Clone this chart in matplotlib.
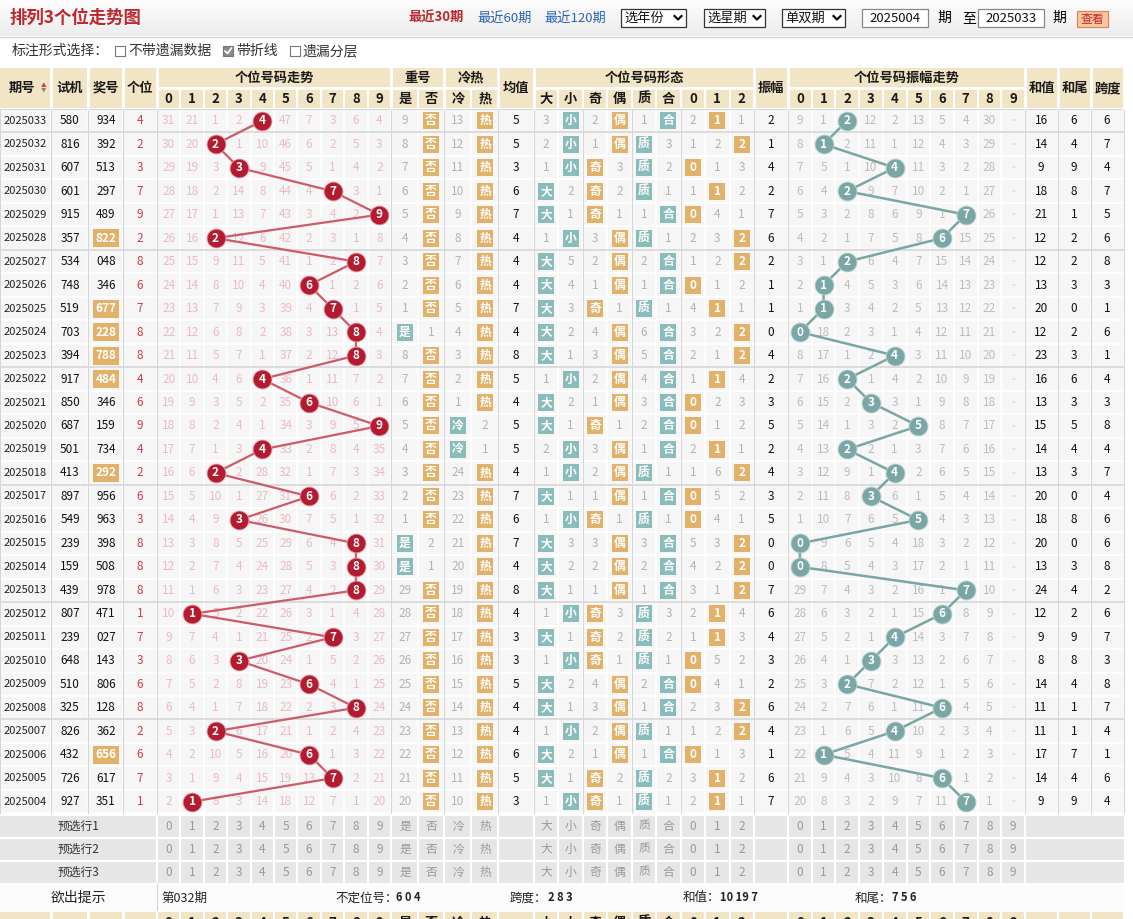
import numpy as np
import matplotlib.pyplot as plt
from matplotlib.patches import Rectangle
from matplotlib.colors import LinearSegmentedColormap

plt.rcParams['font.family'] = ['Noto Sans CJK SC', 'DejaVu Sans']

# ---- data, newest period first ----
periods = ['2025033', '2025032', '2025031', '2025030', '2025029', '2025028', '2025027',
           '2025026', '2025025', '2025024', '2025023', '2025022', '2025021', '2025020',
           '2025019', '2025018', '2025017', '2025016', '2025015', '2025014', '2025013',
           '2025012', '2025011', '2025010', '2025009', '2025008', '2025007', '2025006',
           '2025005', '2025004']
test_nums = ['580', '816', '607', '601', '915', '357', '534', '748', '519', '703', '394', '917',
             '850', '687', '501', '413', '897', '549', '239', '159', '439', '807', '239', '648',
             '510', '325', '826', '432', '726', '927']
draw_nums = ['934', '392', '513', '297', '489', '822', '048', '346', '677', '228', '788', '484',
             '346', '159', '734', '292', '956', '963', '398', '508', '978', '471', '027', '143',
             '806', '128', '362', '656', '617', '351']
ones = [4, 2, 3, 7, 9, 2, 8, 6, 7, 8, 8, 4, 6, 9, 4, 2, 6, 3, 8, 8, 8, 1, 7, 3, 6, 8, 2, 6, 7, 1]

# omission counts for digits 0-9 ('-' = hit)
trend_miss = [
    "31 21 1 2 - 47 7 3 6 4",
    "30 20 - 1 10 46 6 2 5 3",
    "29 19 3 - 9 45 5 1 4 2",
    "28 18 2 14 8 44 4 - 3 1",
    "27 17 1 13 7 43 3 4 2 -",
    "26 16 - 12 6 42 2 3 1 8",
    "25 15 9 11 5 41 1 2 - 7",
    "24 14 8 10 4 40 - 1 2 6",
    "23 13 7 9 3 39 4 - 1 5",
    "22 12 6 8 2 38 3 13 - 4",
    "21 11 5 7 1 37 2 12 - 3",
    "20 10 4 6 - 36 1 11 7 2",
    "19 9 3 5 2 35 - 10 6 1",
    "18 8 2 4 1 34 3 9 5 -",
    "17 7 1 3 - 33 2 8 4 35",
    "16 6 - 2 28 32 1 7 3 34",
    "15 5 10 1 27 31 - 6 2 33",
    "14 4 9 - 26 30 7 5 1 32",
    "13 3 8 5 25 29 6 4 - 31",
    "12 2 7 4 24 28 5 3 - 30",
    "11 1 6 3 23 27 4 2 - 29",
    "10 - 5 2 22 26 3 1 4 28",
    "9 7 4 1 21 25 2 - 3 27",
    "8 6 3 - 20 24 1 5 2 26",
    "7 5 2 8 19 23 - 4 1 25",
    "6 4 1 7 18 22 2 3 - 24",
    "5 3 - 6 17 21 1 2 4 23",
    "4 2 10 5 16 20 - 1 3 22",
    "3 1 9 4 15 19 13 - 2 21",
    "2 - 8 3 14 18 12 7 1 20",
]

rep_yes = "9 8 7 6 5 4 3 2 1 - 8 7 6 5 4 3 2 1 - - 29 28 27 26 25 24 23 22 21 20".split()
rep_no = "- - - - - - - - - 1 - - - - - - - - 2 1 - - - - - - - - - -".split()
cold = "13 12 11 10 9 8 7 6 5 4 3 2 1 - - 24 23 22 21 20 19 18 17 16 15 14 13 12 11 10".split()
hot = "- - - - - - - - - - - - - 2 1 - - - - - - - - - - - - - - -".split()
avg_vals = [5, 5, 3, 6, 7, 4, 4, 4, 7, 4, 8, 5, 4, 5, 5, 4, 7, 6, 7, 4, 8, 4, 3, 3, 5, 4, 4, 6, 5, 3]

big = "3 2 1 - - 1 - - - - - 1 - - 2 1 - 1 - - - 1 - 1 - - 1 - - 1".split()
small = "- - - 2 1 - 5 4 3 2 1 - 2 1 - - 1 - 3 2 1 - 1 - 2 1 - 2 1 -".split()
odd = "2 1 - - - 3 2 1 - 4 3 2 1 - 3 2 1 - 3 2 1 - - - 4 3 2 1 - -".split()
even = "- - 3 2 1 - - - 1 - - - - 1 - - - 1 - - - 3 2 1 - - - - 2 1".split()
prime = "1 - - - 1 - 2 1 - 6 5 4 3 2 1 - 1 - 3 2 1 - - - 2 1 - 1 - -".split()
comp = "- 3 2 1 - 1 - - 1 - - - - - - 1 - 1 - - - 3 2 1 - - 1 - 2 1".split()
mod0 = "2 1 - 1 - 2 1 - 4 3 2 1 - - 2 1 - - 5 4 3 2 1 - - 2 1 - 3 2".split()
mod1 = "- 2 1 - 4 3 2 1 - 2 1 - 2 1 - 6 5 4 3 2 1 - - 5 4 3 2 1 - -".split()
mod2 = "1 - 3 2 1 - - 2 1 - - 4 3 2 1 - 2 1 - - - 4 3 2 1 - - 3 2 1".split()

amps = [2, 1, 4, 2, 7, 6, 2, 1, 1, 0, 4, 2, 3, 5, 2, 4, 3, 5, 0, 0, 7, 6, 4, 3, 2, 6, 4, 1, 6, 7]
amp_miss = [
    "9 1 - 12 2 13 5 4 30 =",
    "8 - 2 11 1 12 4 3 29 =",
    "7 5 1 10 - 11 3 2 28 =",
    "6 4 - 9 7 10 2 1 27 =",
    "5 3 2 8 6 9 1 - 26 =",
    "4 2 1 7 5 8 - 15 25 =",
    "3 1 - 6 4 7 15 14 24 =",
    "2 - 4 5 3 6 14 13 23 =",
    "1 - 3 4 2 5 13 12 22 =",
    "- 18 2 3 1 4 12 11 21 =",
    "8 17 1 2 - 3 11 10 20 =",
    "7 16 - 1 4 2 10 9 19 =",
    "6 15 2 - 3 1 9 8 18 =",
    "5 14 1 3 2 - 8 7 17 =",
    "4 13 - 2 1 3 7 6 16 =",
    "3 12 9 1 - 2 6 5 15 =",
    "2 11 8 - 6 1 5 4 14 =",
    "1 10 7 6 5 - 4 3 13 =",
    "- 9 6 5 4 18 3 2 12 =",
    "- 8 5 4 3 17 2 1 11 =",
    "29 7 4 3 2 16 1 - 10 =",
    "28 6 3 2 1 15 - 8 9 =",
    "27 5 2 1 - 14 3 7 8 =",
    "26 4 1 - 3 13 2 6 7 =",
    "25 3 - 7 2 12 1 5 6 =",
    "24 2 7 6 1 11 - 4 5 =",
    "23 1 6 5 - 10 2 3 4 =",
    "22 - 5 4 11 9 1 2 3 =",
    "21 9 4 3 10 8 - 1 2 =",
    "20 8 3 2 9 7 11 - 1 =",
]
sums = [16, 14, 9, 18, 21, 12, 12, 13, 20, 12, 23, 16, 13, 15, 14, 13, 20, 18, 20, 13, 24, 12,
        9, 8, 14, 11, 11, 17, 14, 9]
sum_tails = [6, 4, 9, 8, 1, 2, 2, 3, 0, 2, 3, 6, 3, 5, 4, 3, 0, 8, 0, 3, 4, 2, 9, 8, 4, 1, 1, 7, 4, 9]
spans = [6, 7, 4, 7, 5, 6, 8, 3, 1, 6, 1, 4, 3, 8, 4, 7, 4, 6, 6, 8, 2, 6, 7, 3, 8, 7, 4, 1, 6, 4]

hint_issue = '第032期'
hint_items = [('不定位号：', '6 0 4'), ('跨度：', '2 8 3'), ('和值：', '10 19 7'), ('和尾：', '7 5 6')]

# ---- colours ----
BEIGE = '#f1e5c6'
ORANGE = '#e2b26b'
TEAL = '#8bbcbc'
RED = '#b41b30'
RED_LINE = '#cd5b69'
GREEN = '#7aa6a6'
GRID = '#d6d6d6'

fig = plt.figure(figsize=(11.33, 9.19), dpi=100)
ax = fig.add_axes([0, 0, 1, 1])

# top bar
grad = LinearSegmentedColormap.from_list('g', ['#fdfdfd', '#ededed'])
ax.imshow(np.linspace(0, 1, 50)[:, None], extent=[0, 1133, 36, 0], cmap=grad, aspect='auto', zorder=0)
ax.set_xlim(0, 1133)
ax.set_ylim(919, 0)
ax.axis('off')
ax.plot([0, 1133], [36.5, 36.5], color='#d8d8d8', lw=1)

ax.text(10, 18, '排列3个位走势图', fontsize=12.5, fontweight='bold', color='#c0272d', va='center')
ax.text(408, 18, '最近30期', fontsize=9.5, fontweight='bold', color='#c0272d', va='center')
ax.text(477, 18, '最近60期', fontsize=9.5, color='#2b63b8', va='center')
ax.text(544, 18, '最近120期', fontsize=9.5, color='#2b63b8', va='center')
for x0, w, label in [(621, 65, '选年份'), (704, 61, '选星期'), (782, 63, '单双期')]:
    ax.add_patch(Rectangle((x0, 9), w, 18, fc='white', ec='#333333', lw=0.9))
    ax.text(x0 + 3, 18, label, fontsize=9.5, va='center', color='#111111')
    cx = x0 + w - 8
    ax.plot([cx - 3.5, cx, cx + 3.5], [16, 19.5, 16], color='#111111', lw=1.6)
for x0, label in [(862, '2025004'), (978, '2025033')]:
    ax.add_patch(Rectangle((x0, 9), 66, 18, fc='white', ec='#888888', lw=0.9))
    ax.text(x0 + 33, 18, label, fontsize=9.5, ha='center', va='center', color='#111111')
ax.text(937, 18, '期', fontsize=10, va='center')
ax.text(962, 18, '至', fontsize=10, va='center')
ax.text(1052, 18, '期', fontsize=10, va='center')
ax.add_patch(Rectangle((1077, 11), 31, 16, fc='#f8c6a0', ec='#d98a5c', lw=0.9))
ax.text(1092.5, 19, '查看', fontsize=8.5, ha='center', va='center', color='#c0272d')

# options line
ax.text(12, 51, '标注形式选择：', fontsize=10, va='center', color='#333333')
for x0, label, checked in [(115, '不带遗漏数据', False), (223, '带折线', True), (290, '遗漏分层', False)]:
    ax.add_patch(Rectangle((x0, 46), 10, 10, fc='#8a8a8a' if checked else 'white',
                           ec='#777777', lw=0.8))
    if checked:
        ax.plot([x0 + 2, x0 + 4.5, x0 + 8.5], [51, 53.5, 48], color='white', lw=1.2)
    ax.text(x0 + 13, 51, label, fontsize=10, va='center', color='#333333')

# ---- column layout ----
def centers(x0, w, n):
    return [x0 + w * (i + 0.5) for i in range(n)]

TR_X0, TR_W = 157, 23.4
FM_X0, FM_W = 534, 24.44
AM_X0, AM_W = 788, 23.7
tr_x = centers(TR_X0, TR_W, 10)
fm_x = centers(FM_X0, FM_W, 9)
am_x = centers(AM_X0, AM_W, 10)
x_id, x_test, x_draw, x_one = 25, 70, 106, 140
x_yes, x_no, x_cold, x_hot, x_avg = 405, 431, 458, 485, 516
x_amp, x_sum, x_tail, x_span = 771, 1041, 1074, 1107
RIGHT = 1124

edges = ([0, 51, 88, 123] + [TR_X0 + TR_W * i for i in range(11)] + [418, 444, 471, 498] +
         [FM_X0 + FM_W * i for i in range(10)] + [AM_X0 + AM_W * i for i in range(11)] +
         [1058, 1091, RIGHT])
group_edges = [0, 51, 88, 123, 157, 391, 444, 498, 534, FM_X0 + 2 * FM_W, FM_X0 + 4 * FM_W,
               FM_X0 + 6 * FM_W, 754, 788, 1025, 1058, 1091, RIGHT]

# ---- header ----
H0, H1, H2 = 68, 88, 108
ax.add_patch(Rectangle((0, H0), RIGHT, H2 - H0, fc=BEIGE, ec='none', zorder=0))
hfont = dict(fontsize=9.5, fontweight='bold', color='#1a1a1a', ha='center', va='center')
single = [(0, 51, '期号'), (51, 88, '试机'), (88, 123, '奖号'), (123, 157, '个位'),
          (498, 534, '均值'), (754, 788, '振幅'), (1025, 1058, '和值'), (1058, 1091, '和尾'),
          (1091, 1124, '跨度')]
for a, b, label in single:
    ax.text((a + b) / 2 - (4 if label == '期号' else 0), (H0 + H2) / 2, label, **hfont)
    ax.plot([b, b], [H0, H2], color='white', lw=2)
ax.text(44, 85.5, '▲', fontsize=4, color='#d33c3c', ha='center', va='center')
ax.text(44, 90.5, '▼', fontsize=4, color='#888888', ha='center', va='center')
digits = [str(i) for i in range(10)]
groups = [(157, 391, '个位号码走势', tr_x, digits),
          (391, 444, '重号', [x_yes, x_no], ['是', '否']),
          (444, 498, '冷热', [x_cold, x_hot], ['冷', '热']),
          (534, 754, '个位号码形态', fm_x, ['大', '小', '奇', '偶', '质', '合', '0', '1', '2']),
          (788, 1025, '个位号码振幅走势', am_x, digits)]
for a, b, label, xs, subs in groups:
    ax.text((a + b) / 2, (H0 + H1) / 2, label, **hfont)
    ax.plot([a, b], [H1, H1], color='white', lw=2)
    ax.plot([b, b], [H0, H2], color='white', lw=2)
    for x, s in zip(xs, subs):
        ax.text(x, (H1 + H2) / 2 + 1, s, **hfont)
for e in edges:
    if 157 < e < 1025:
        ax.plot([e, e], [H1, H2], color='white', lw=1.5)

# ---- data grid ----
Y0, RH = 109, 23.48
n = len(periods)
Y1 = Y0 + n * RH
ys = [Y0 + RH * (i + 0.5) for i in range(n)]
ax.add_patch(Rectangle((0, Y0), RIGHT, n * RH, fc='#f6f6f6', ec='none', zorder=0))
for e in edges:
    ax.plot([e, e], [Y0, Y1], color='white', lw=1.2, zorder=1)
for i in range(n + 1):
    ax.plot([0, RIGHT], [Y0 + RH * i] * 2, color='white', lw=1.2, zorder=1)
for e in group_edges:
    ax.plot([e, e], [Y0, Y1], color=GRID, lw=0.8, zorder=1.5)
ax.plot([0, RIGHT], [Y0, Y0], color=GRID, lw=0.8, zorder=1.5)
for i, p in enumerate(periods):
    if p[-1] in '38':
        ax.plot([0, RIGHT], [Y0 + RH * (i + 1)] * 2, color=GRID, lw=1.2, zorder=1.5)

txt = dict(ha='center', va='center', fontsize=8.5)


def box(x, y, label, color, w=16, h=17):
    ax.add_patch(Rectangle((x - w / 2, y - h / 2), w, h, fc=color, ec='none', zorder=2))
    ax.text(x, y, label, color='white', fontweight='bold', zorder=3, **txt)


for i, y in enumerate(ys):
    ax.text(x_id, y, periods[i], color='#222222', ha='center', va='center', fontsize=8)
    ax.text(x_test, y, test_nums[i], color='#111111', **txt)
    d = draw_nums[i]
    if len(set(d)) < 3:
        box(x_draw, y, d, ORANGE, w=26, h=18)
    else:
        ax.text(x_draw, y, d, color='#111111', **txt)
    ax.text(x_one, y, str(ones[i]), color='#d03a4c', **txt)

    for x, v in zip(tr_x, trend_miss[i].split()):
        if v != '-':
            ax.text(x, y, v, color='#ebbcc1', zorder=2, **txt)

    for x, col, label, color in [(x_yes, rep_yes, '是', TEAL), (x_no, rep_no, '否', ORANGE),
                                 (x_cold, cold, '冷', TEAL), (x_hot, hot, '热', ORANGE)]:
        if col[i] == '-':
            box(x, y, label, color)
        else:
            ax.text(x, y, col[i], color='#b3b3b3', **txt)
    ax.text(x_avg, y, str(avg_vals[i]), color='#111111', **txt)

    shape_cols = [(big, '大', TEAL), (small, '小', TEAL), (odd, '奇', ORANGE), (even, '偶', ORANGE),
                  (prime, '质', TEAL), (comp, '合', TEAL), (mod0, '0', ORANGE), (mod1, '1', ORANGE),
                  (mod2, '2', ORANGE)]
    for x, (col, label, color) in zip(fm_x, shape_cols):
        if col[i] == '-':
            box(x, y, label, color)
        else:
            ax.text(x, y, col[i], color='#b3b3b3', **txt)
    ax.text(x_amp, y, str(amps[i]), color='#111111', **txt)

    for x, v in zip(am_x, amp_miss[i].split()):
        if v == '=':
            ax.text(x, y, v, color='#cccccc', ha='center', va='center', fontsize=4.5)
        elif v != '-':
            ax.text(x, y, v, color='#bdbdbd', zorder=2, **txt)
    ax.text(x_sum, y, str(sums[i]), color='#111111', **txt)
    ax.text(x_tail, y, str(sum_tails[i]), color='#111111', **txt)
    ax.text(x_span, y, str(spans[i]), color='#111111', **txt)

# trend lines with numbered balls
ox = [tr_x[d] for d in ones]
ax.plot(ox, ys, color=RED_LINE, lw=1.6, zorder=3)
ax.scatter(ox, ys, s=185, color=RED, edgecolors='#e7a0a8', linewidths=0.6, zorder=4)
for x, y, d in zip(ox, ys, ones):
    ax.text(x, y, str(d), color='white', fontweight='bold', zorder=5, **txt)

axx = [am_x[a] for a in amps]
ax.plot(axx, ys, color=GREEN, lw=1.8, zorder=3)
ax.scatter(axx, ys, s=185, color=GREEN, edgecolors='#b9d2d2', linewidths=0.6, zorder=4)
for x, y, a in zip(axx, ys, amps):
    ax.text(x, y, str(a), color='white', fontweight='bold', zorder=5, **txt)

# ---- preselect rows ----
P0, PH = Y1 + 1.5, 23
ax.add_patch(Rectangle((0, P0), RIGHT, 3 * PH, fc='#e6e6e6', ec='none', zorder=0))
for k in range(4):
    ax.plot([0, RIGHT], [P0 + PH * k] * 2, color='white', lw=1.5)
for e in edges:
    if 157 <= e <= 1025:
        ax.plot([e, e], [P0, P0 + 3 * PH], color='white', lw=1.5)
pre_cells = (list(zip(tr_x, digits)) + [(x_yes, '是'), (x_no, '否'), (x_cold, '冷'), (x_hot, '热')] +
             list(zip(fm_x, ['大', '小', '奇', '偶', '质', '合', '0', '1', '2'])) + list(zip(am_x, digits)))
for k in range(3):
    y = P0 + PH * (k + 0.5)
    ax.text(78, y, '预选行%d' % (k + 1), color='#333333', ha='center', va='center', fontsize=8.5)
    for x, s in pre_cells:
        ax.text(x, y, s, color='#9a9a9a', **txt)

# ---- hint row ----
Q0 = P0 + 3 * PH
Q1 = 912
ax.add_patch(Rectangle((0, Q0), RIGHT, Q1 - Q0, fc='#fcfcfc', ec='none', zorder=0))
ax.plot([157, 157], [Q0, Q1], color=GRID, lw=0.8)
qy = (Q0 + Q1) / 2
ax.text(78, qy, '欲出提示', fontsize=10, ha='center', va='center', color='#222222')
ax.text(161, qy, hint_issue, fontsize=9, va='center', color='#222222')
for x0, (label, val) in zip([335, 510, 683, 855], hint_items):
    ax.text(x0, qy, label, fontsize=9, va='center', color='#222222')
    ax.text(x0 + len(label) * 11.5 + 3, qy, val, fontsize=8, fontweight='bold', va='center',
            color='#222222')

# repeated header peeking at the bottom
ax.add_patch(Rectangle((0, Q1), RIGHT, 10, fc=BEIGE, ec='none', zorder=0))
for e in group_edges + edges:
    if e > 150:
        ax.plot([e, e], [Q1, 919], color='white', lw=1.5)
for e in [51, 88, 123]:
    ax.plot([e, e], [Q1, 919], color='white', lw=2)
for a, b, label, xs, subs in groups:
    for x, s in zip(xs, subs):
        ax.text(x, 916, s, fontsize=9.5, fontweight='bold', color='#1a1a1a', ha='center', va='top')

fig.savefig('out.png', dpi=100)
